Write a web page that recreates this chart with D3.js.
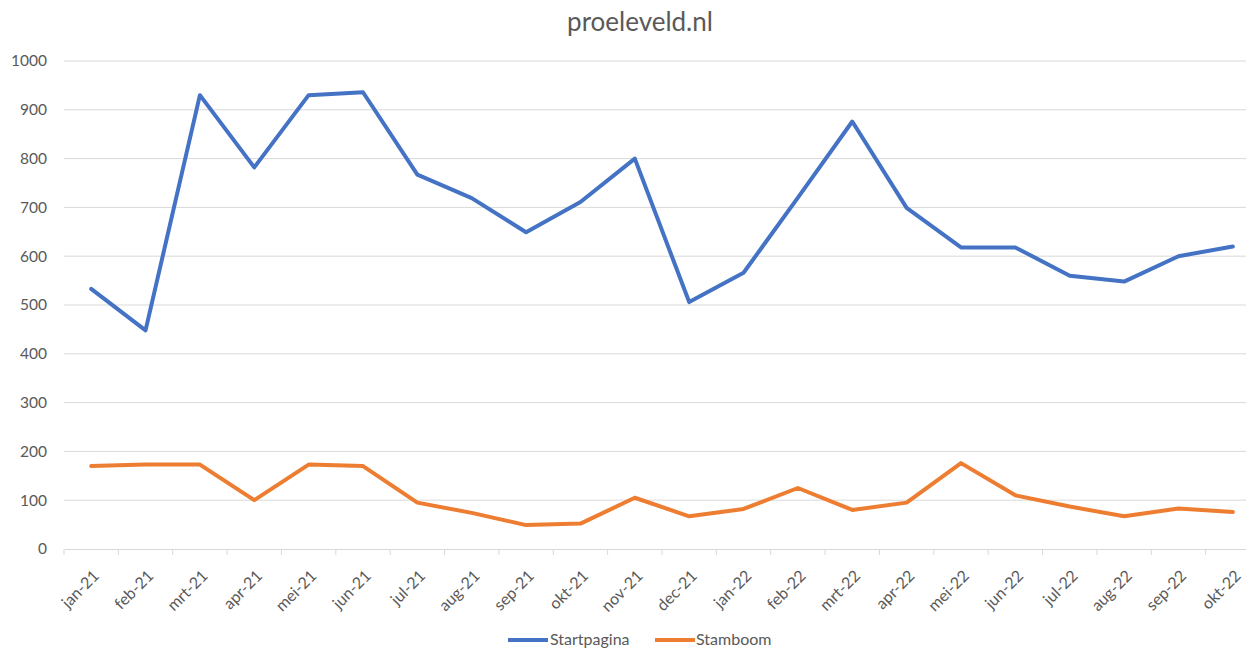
<!DOCTYPE html>
<html>
<head>
<meta charset="utf-8">
<script src="https://cdn.jsdelivr.net/npm/d3@7"></script>
<style>
  html, body { margin: 0; padding: 0; background: #fff; }
  svg { display: block; }
  text { font-family: Lato, "Open Sans", sans-serif; fill: #595959; }
</style>
</head>
<body>
<svg id="chart" width="1246" height="649"></svg>
<script>
const categories = ["jan-21","feb-21","mrt-21","apr-21","mei-21","jun-21","jul-21","aug-21","sep-21","okt-21","nov-21","dec-21",
                    "jan-22","feb-22","mrt-22","apr-22","mei-22","jun-22","jul-22","aug-22","sep-22","okt-22"];
const startpagina = [533, 448, 930, 782, 930, 936, 767, 719, 649, 711, 800, 506, 566, 720, 876, 699, 618, 618, 560, 548, 600, 620];
const stamboom   = [170, 173, 173, 100, 173, 170, 95, 74, 49, 52, 105, 67, 82, 125, 80, 95, 176, 110, 87, 67, 83, 76];
const yTicks = [0, 100, 200, 300, 400, 500, 600, 700, 800, 900, 1000];
const seriesNames = ["Startpagina", "Stamboom"];
const seriesColors = ["#4472C4", "#ED7D31"];
const titleText = "proeleveld.nl";

const svg = d3.select("#chart");
const plot = { left: 64, right: 1260, top: 61, bottom: 549 };

const x = d3.scaleBand().domain(categories).range([plot.left, plot.right]).padding(0);
const y = d3.scaleLinear().domain([0, 1000]).range([plot.bottom, plot.top]);

// Title
svg.append("text").attr("x", 640).attr("y", 31).attr("text-anchor", "middle")
  .style("font-size", "26px").text(titleText);

// Gridlines
svg.append("g").selectAll("line").data(yTicks.filter(d => d > 0)).join("line")
  .attr("x1", plot.left).attr("x2", plot.right)
  .attr("y1", d => y(d)).attr("y2", d => y(d))
  .attr("stroke", "#d9d9d9").attr("stroke-width", 1);

// Y axis labels
const yAxis = d3.axisLeft(y).tickValues(yTicks).tickFormat(d3.format("d")).tickSize(0).tickPadding(0);
const yg = svg.append("g").attr("transform", `translate(${plot.left - 17},0)`).call(yAxis);
yg.select(".domain").remove();
yg.selectAll("text").style("font-size", "15.5px").style("font-family", "Lato, sans-serif").attr("fill", "#595959");

// X axis
const xAxis = d3.axisBottom(x).tickSize(0).tickPadding(0);
const xg = svg.append("g").attr("transform", `translate(0,${plot.bottom})`).call(xAxis);
xg.select(".domain").attr("stroke", "#d9d9d9");
xg.selectAll(".tick line").remove();
xg.selectAll("text")
  .style("font-size", "16px").style("font-family", "Lato, sans-serif").attr("fill", "#595959")
  .attr("text-anchor", "end")
  .attr("dy", "0.35em")
  .attr("transform", "translate(5,24) rotate(-45)")
  .attr("y", 0).attr("x", 0);
// tick marks between categories
const boundaries = categories.map(c => x(c)).concat([x(categories[categories.length - 1]) + x.bandwidth()]);
svg.append("g").selectAll("line").data(boundaries).join("line")
  .attr("x1", d => d).attr("x2", d => d)
  .attr("y1", plot.bottom).attr("y2", plot.bottom + 6)
  .attr("stroke", "#d9d9d9");

// Lines
const cx = d => x(d) + x.bandwidth() / 2;
[startpagina, stamboom].forEach((vals, i) => {
  const line = d3.line().x((d, j) => cx(categories[j])).y(d => y(d));
  svg.append("path").datum(vals)
    .attr("fill", "none").attr("stroke", seriesColors[i]).attr("stroke-width", 4)
    .attr("stroke-linejoin", "round").attr("stroke-linecap", "round")
    .attr("d", line);
});

// Legend
const legendY = 639;
const legendItems = [{ x1: 508, tx: 550 }, { x1: 655, tx: 696 }];
const lg = svg.append("g");
seriesNames.forEach((name, i) => {
  const it = legendItems[i];
  lg.append("line").attr("x1", it.x1).attr("x2", it.x1 + 40).attr("y1", legendY + 1).attr("y2", legendY + 1)
    .attr("stroke", seriesColors[i]).attr("stroke-width", 4);
  lg.append("text").attr("x", it.tx).attr("y", legendY).attr("dy", "0.35em")
    .style("font-size", "16px").text(name);
});
</script>
</body>
</html>
